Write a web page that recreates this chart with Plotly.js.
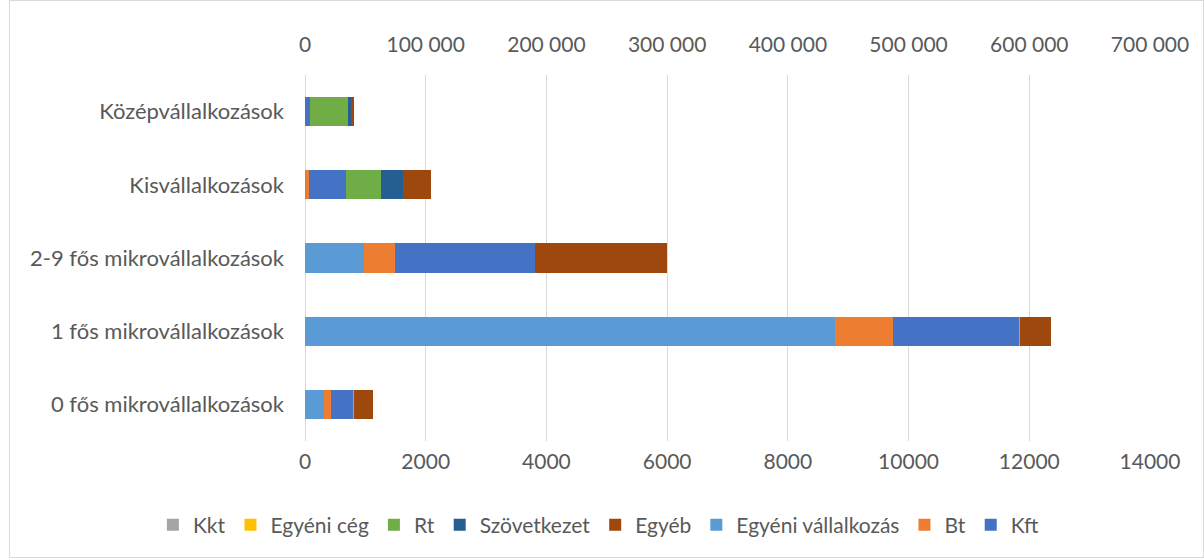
<!DOCTYPE html>
<html>
<head>
<meta charset="utf-8">
<script src="https://cdn.plot.ly/plotly-3.0.1.min.js"></script>
<style>
  html, body { margin: 0; padding: 0; background: #fff; }
  #frame { position: absolute; left: 9px; top: 0px; width: 1193px; height: 556px; border: 1px solid #D9D9D9; }
  #chart { position: absolute; left: 0; top: 0; width: 1204px; height: 558px; }
</style>
</head>
<body>
<div id="frame"></div>
<div id="chart"></div>
<script>
const categories = ['0 fős mikrovállalkozások', '1 fős mikrovállalkozások', '2-9 fős mikrovállalkozások', 'Kisvállalkozások', 'Középvállalkozások'];

const egyeniVallalkozas = [310, 8776, 972, 15, 0];
const bt = [127, 966, 519, 45, 5];
const kft = [364, 2094, 2319, 613, 84];
const kkt = [3, 5, 5, 3, 0];
const egyeniCeg = [0, 0, 0, 0, 0];
const rt = [0, 0, 0, 591, 618];
const szovetkezet = [0, 0, 0, 358, 50];
const egyeb = [325, 519, 2187, 470, 50];

const bottomTicks = [0, 2000, 4000, 6000, 8000, 10000, 12000, 14000];
const topTicks = [0, 100000, 200000, 300000, 400000, 500000, 600000, 700000];
const topTickLabels = ['0', '100 000', '200 000', '300 000', '400 000', '500 000', '600 000', '700 000'];

const series = [
  {name: 'Egyéni vállalkozás', values: egyeniVallalkozas, color: '#5B9BD5', rank: 6},
  {name: 'Bt', values: bt, color: '#ED7D31', rank: 7},
  {name: 'Kft', values: kft, color: '#4472C4', rank: 8},
  {name: 'Kkt', values: kkt, color: '#A5A5A5', rank: 1},
  {name: 'Egyéni cég', values: egyeniCeg, color: '#FFC000', rank: 2},
  {name: 'Rt', values: rt, color: '#70AD47', rank: 3},
  {name: 'Szövetkezet', values: szovetkezet, color: '#255E91', rank: 4},
  {name: 'Egyéb', values: egyeb, color: '#9E480E', rank: 5}
];

const traces = series.map(s => ({
  type: 'bar',
  orientation: 'h',
  name: s.name,
  x: s.values,
  y: categories,
  marker: {color: s.color, line: {width: 0}},
  legendrank: s.rank,
  hoverinfo: 'x+name'
}));

traces.push({
  type: 'scatter',
  mode: 'markers',
  x: [topTicks[0]],
  y: [categories[0]],
  xaxis: 'x2',
  marker: {opacity: 0},
  showlegend: false,
  hoverinfo: 'skip'
});

const fontFamily = 'Lato, "Open Sans", sans-serif';

const layout = {
  width: 1204,
  height: 558,
  paper_bgcolor: 'rgba(0,0,0,0)',
  plot_bgcolor: 'rgba(0,0,0,0)',
  barmode: 'stack',
  bargap: 0.6,
  margin: {l: 305, r: 54, t: 75, b: 114},
  font: {family: fontFamily, size: 21, color: '#595959'},
  showlegend: true,
  legend: {
    orientation: 'h',
    x: -0.18, xref: 'paper', xanchor: 'left',
    y: -0.23, yref: 'paper', yanchor: 'middle',
    font: {family: fontFamily, size: 21, color: '#595959'},
    itemwidth: 30,
    traceorder: 'normal'
  },
  xaxis: {
    range: [0, 14000],
    tickvals: bottomTicks,
    tickformat: 'd',
    tickfont: {size: 21},
    showgrid: true,
    gridcolor: '#D9D9D9',
    gridwidth: 1,
    zeroline: true,
    zerolinecolor: '#D9D9D9',
    zerolinewidth: 1,
    showline: false,
    ticks: '',
    ticklabelstandoff: 6,
    fixedrange: true
  },
  xaxis2: {
    overlaying: 'x',
    side: 'top',
    range: [0, 700000],
    tickvals: topTicks,
    ticktext: topTickLabels,
    tickfont: {size: 21},
    showgrid: false,
    zeroline: false,
    showline: false,
    ticks: '',
    ticklabelstandoff: 18,
    fixedrange: true
  },
  yaxis: {
    type: 'category',
    categoryorder: 'array',
    categoryarray: categories,
    tickfont: {size: 22},
    showgrid: false,
    zeroline: false,
    showline: false,
    ticks: '',
    ticklabelstandoff: 20,
    fixedrange: true
  }
};

Plotly.newPlot('chart', traces, layout, {displayModeBar: false, staticPlot: true});
</script>
</body>
</html>
